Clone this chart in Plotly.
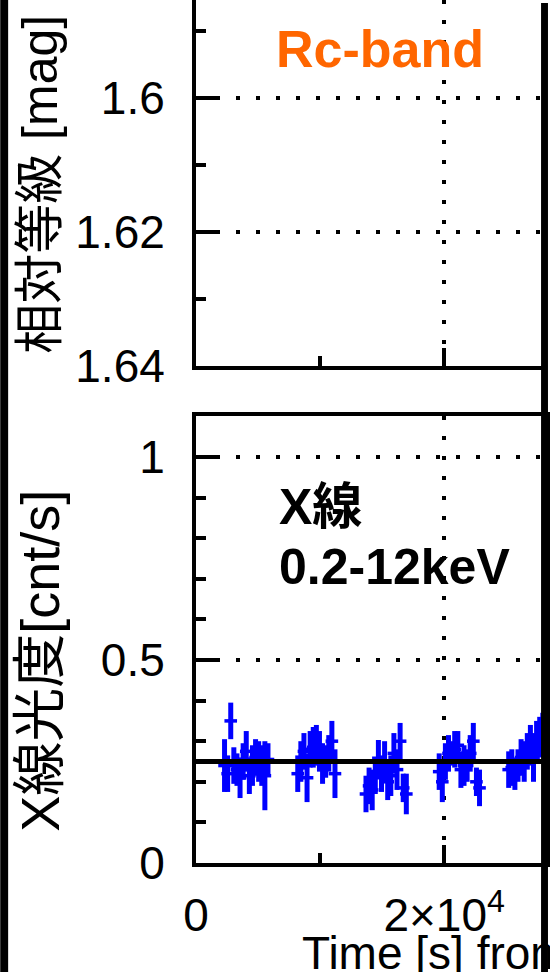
import plotly.graph_objects as go

# ---------------- data ----------------
# X-ray light curve, 0.2-12 keV  [cnt/s]
t_g1 = [2300, 2550, 2800, 3050, 3300, 3550, 3800, 4050, 4300, 4550, 4800, 5050, 5300, 5550, 5800]
r_g1 = [0.24, 0.22, 0.35, 0.24, 0.23, 0.21, 0.25, 0.275, 0.215, 0.24, 0.26, 0.25, 0.24, 0.215, 0.255]
e_g1 = [0.065, 0.045, 0.045, 0.045, 0.04, 0.05, 0.045, 0.05, 0.045, 0.05, 0.045, 0.05, 0.05, 0.085, 0.04]

t_g2 = [8200, 8450, 8700, 8950, 9200, 9450, 9700, 9950, 10200, 10450, 10700, 10950, 11200]
r_g2 = [0.22, 0.25, 0.275, 0.21, 0.28, 0.285, 0.29, 0.275, 0.245, 0.25, 0.27, 0.30, 0.22]
e_g2 = [0.045, 0.05, 0.045, 0.06, 0.045, 0.05, 0.05, 0.05, 0.05, 0.04, 0.045, 0.05, 0.06]

t_g3 = [13700, 13950, 14200, 14450, 14700, 14950, 15200, 15450, 15700, 15950, 16200, 16450, 16700, 16950]
r_g3 = [0.17, 0.19, 0.18, 0.21, 0.258, 0.22, 0.25, 0.20, 0.215, 0.27, 0.23, 0.30, 0.185, 0.17]
e_g3 = [0.045, 0.045, 0.05, 0.04, 0.045, 0.045, 0.05, 0.045, 0.05, 0.05, 0.05, 0.045, 0.035, 0.05]

t_g4 = [19600, 19850, 20100, 20350, 20600, 20850, 21100, 21350, 21600, 21850, 22100, 22350, 22600, 22850]
r_g4 = [0.225, 0.20, 0.25, 0.27, 0.27, 0.28, 0.29, 0.23, 0.24, 0.24, 0.27, 0.30, 0.20, 0.185]
e_g4 = [0.045, 0.05, 0.045, 0.045, 0.03, 0.045, 0.035, 0.045, 0.05, 0.04, 0.045, 0.045, 0.035, 0.045]

t_g5 = [25200, 25450, 25700, 25950, 26200, 26450, 26700, 26950, 27200, 27450, 27700, 27950]
r_g5 = [0.23, 0.235, 0.22, 0.24, 0.26, 0.25, 0.275, 0.29, 0.26, 0.30, 0.31, 0.32]
e_g5 = [0.045, 0.045, 0.04, 0.04, 0.045, 0.05, 0.045, 0.05, 0.06, 0.05, 0.05, 0.05]

mean_rate = 0.25          # black horizontal reference line

x_tickvals = [0, 20000]
x_ticktext = ["0", "2×10<sup>4</sup>"]
mag_tickvals = [1.60, 1.62, 1.64]
rate_tickvals = [0, 0.5, 1]

times = t_g1 + t_g2 + t_g3 + t_g4 + t_g5
rates = r_g1 + r_g2 + r_g3 + r_g4 + r_g5
errs = e_g1 + e_g2 + e_g3 + e_g4 + e_g5

# ---------------- figure ----------------
W, H = 550, 972
L, B = 196, 109
PW, PH = W - L, H - B

def py(pix):          # pixel y (from top) -> paper y
    return 1 - pix / PH

def px(pix):          # pixel x -> paper x
    return (pix - L) / PW

FONT = "Liberation Sans, Arial, Helvetica, Noto Sans CJK JP, sans-serif"
BLUE = "#0000FF"

fig = go.Figure()
fig.add_trace(go.Scatter(
    x=times, y=rates, mode="markers", xaxis="x2", yaxis="y2",
    marker=dict(symbol="line-ew-open", size=9, color=BLUE, line=dict(color=BLUE, width=3.5)),
    error_y=dict(type="data", array=errs, visible=True, color=BLUE, thickness=5, width=0),
    showlegend=False, hoverinfo="skip",
))
# invisible trace so the top panel's axes are drawn
fig.add_trace(go.Scatter(x=[None], y=[None], xaxis="x", yaxis="y", showlegend=False))

grid = dict(showgrid=True, gridcolor="black", gridwidth=4, griddash="4px,16px")
common_x = dict(range=[0, PW / 125.5 * 1e4], tickvals=x_tickvals, showline=True, linecolor="black",
                linewidth=4, ticks="inside", ticklen=18, tickwidth=4, tickcolor="black",
                minor=dict(dtick=10000, ticks="inside", ticklen=10, tickwidth=4, tickcolor="black",
                           showgrid=False),
                zeroline=False, **grid)

top_lo, top_hi = 1 - 366 / PH, 1.0
bot_lo, bot_hi = 0.0, 1 - 416 / PH

fig.update_layout(
    width=W, height=H,
    margin=dict(l=L, r=0, t=0, b=B, pad=0),
    paper_bgcolor="white", plot_bgcolor="white",
    font=dict(family=FONT, size=46, color="black"),
    xaxis=dict(domain=[0, 1], anchor="y", showticklabels=False, **common_x),
    yaxis=dict(domain=[top_lo, top_hi], anchor="x",
               range=[1.6 + (366 - 98) / 134 * 0.02, 1.6 - 98 / 134 * 0.02],
               tickvals=mag_tickvals, ticktext=["1.6", "1.62", "1.64"],
               showline=True, linecolor="black", linewidth=4,
               ticks="inside", ticklen=20, tickwidth=4, tickcolor="black",
               minor=dict(dtick=0.01, tick0=1.59, ticks="inside", ticklen=10, tickwidth=4,
                          tickcolor="black", showgrid=False),
               zeroline=False, ticklabelstandoff=18, **grid),
    xaxis2=dict(domain=[0, 1], anchor="y2", ticktext=x_ticktext, mirror=True,
                ticklabelstandoff=9, tickfont=dict(size=46), **common_x),
    yaxis2=dict(domain=[bot_lo, bot_hi], anchor="x2",
                range=[0, 1 + 41 / 406],
                tickvals=rate_tickvals, ticktext=["0", "0.5", "1"],
                showline=True, linecolor="black", linewidth=4, mirror=True,
                ticks="inside", ticklen=20, tickwidth=4, tickcolor="black",
                minor=dict(dtick=0.1, ticks="inside", ticklen=10, tickwidth=4,
                           tickcolor="black", showgrid=False),
                zeroline=False, ticklabelstandoff=18, **grid),
)

# mean level line
fig.add_shape(type="line", xref="x2 domain", yref="y2", x0=0, x1=1, y0=mean_rate, y1=mean_rate,
              line=dict(color="black", width=5), layer="above")

# black frame strips at the image edges
fig.add_shape(type="rect", xref="paper", yref="paper", x0=px(-2), x1=px(6), y0=py(H + 2), y1=py(-2),
              fillcolor="black", line=dict(width=0), layer="above")
fig.add_shape(type="rect", xref="paper", yref="paper", x0=px(545), x1=px(552), y0=py(H + 2), y1=py(3),
              fillcolor="black", line=dict(width=0), layer="above")

ann = [
    dict(text="<b>Rc-band</b>", x=px(382), y=py(49), xanchor="center", yanchor="middle",
         font=dict(size=52, color="#FF6600")),
    dict(text="<b>X線</b>", x=px(278), y=py(507), xanchor="left", yanchor="middle",
         font=dict(size=50, color="black")),
    dict(text="<b>0.2-12keV</b>", x=px(278), y=py(567), xanchor="left", yanchor="middle",
         font=dict(size=50, color="black")),
    dict(text="相対等級 [mag]", x=px(38), y=py(184), textangle=-90, xanchor="center",
         yanchor="middle", font=dict(size=50, color="black")),
    dict(text="X線光度[cnt/s]", x=px(38), y=py(661), textangle=-90, xanchor="center",
         yanchor="middle", font=dict(size=54, color="black")),
    dict(text="Time [s] from", x=px(301), y=py(953), xanchor="left", yanchor="middle",
         font=dict(size=46, color="black")),
]
for a in ann:
    fig.add_annotation(xref="paper", yref="paper", showarrow=False, **a)

fig.write_html("out.html", config={"displayModeBar": False},
               post_script="document.body.style.margin='0';document.body.style.overflow='hidden';")
